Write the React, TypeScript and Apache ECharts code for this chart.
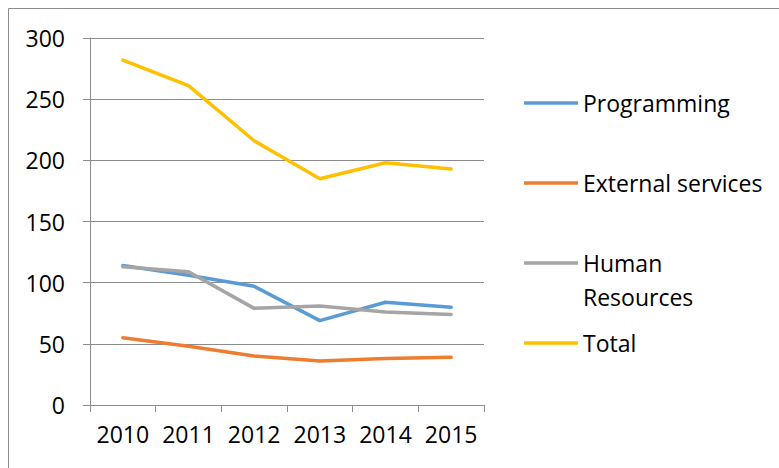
import React, { useEffect, useRef } from "react";
import * as echarts from "echarts";

const years = ["2010", "2011", "2012", "2013", "2014", "2015"];
const programming = [114, 106, 97, 69, 84, 80];
const externalServices = [55, 48, 40, 36, 38, 39];
const humanResources = [113, 109, 79, 81, 76, 74];
const total = [282, 261, 216, 185, 198, 193];

const seriesNames = ["Programming", "External services", "Human Resources", "Total"];
const seriesColors = ["#5B9BD5", "#ED7D31", "#A5A5A5", "#FFC000"];
const seriesData = [programming, externalServices, humanResources, total];

export default function App() {
  const ref = useRef<HTMLDivElement>(null);
  useEffect(() => {
    if (!ref.current) return;
    const chart = echarts.init(ref.current, null, { renderer: "svg" });
    const font = "'Open Sans', sans-serif";
    const legendTops = [86, 166, 212, 326];
    chart.setOption({
      animation: false,
      graphic: [
        {
          type: "polyline",
          shape: { points: [[8.5, 468], [8.5, 8.5], [779, 8.5]] },
          style: { stroke: "#8c8c8c", lineWidth: 1, fill: "none" },
          silent: true,
        },
      ],
      grid: { left: 90, right: 295, top: 38, bottom: 63 },
      legend: seriesNames.map((n, i) => ({
        data: [n],
        orient: "vertical",
        left: 524,
        top: legendTops[i],
        padding: 0,
        itemGap: 0,
        icon: "rect",
        itemWidth: 54,
        itemHeight: 3.5,
        formatter: n === "Human Resources" ? "\nHuman\nResources" : "{name}",
        textStyle: {
          fontFamily: font,
          fontSize: 23,
          color: "#000",
          lineHeight: 34,
        },
      })),
      xAxis: {
        type: "category",
        data: years,
        boundaryGap: true,
        axisLine: { lineStyle: { color: "#8c8c8c", width: 1 } },
        axisTick: { show: true, length: 7, lineStyle: { color: "#8c8c8c" } },
        axisLabel: { fontFamily: font, fontSize: 23, color: "#000", margin: 17, interval: 0 },
      },
      yAxis: {
        type: "value",
        min: 0,
        max: 300,
        interval: 50,
        axisLine: { show: true, lineStyle: { color: "#8c8c8c", width: 1 } },
        axisTick: { show: true, length: 7, lineStyle: { color: "#8c8c8c" } },
        splitLine: { lineStyle: { color: "#8c8c8c", width: 1 } },
        axisLabel: { fontFamily: font, fontSize: 23, color: "#000", margin: 25 },
      },
      series: seriesNames.map((n, i) => ({
        name: n,
        type: "line",
        data: seriesData[i],
        symbol: "none",
        color: seriesColors[i],
        lineStyle: { width: 3.5, color: seriesColors[i], cap: "round", join: "round" },
      })),
    });
    return () => chart.dispose();
  }, []);
  return (
    <div
      ref={ref}
      style={{ position: "absolute", left: 0, top: 0, width: 779, height: 468, background: "#fff" }}
    />
  );
}
